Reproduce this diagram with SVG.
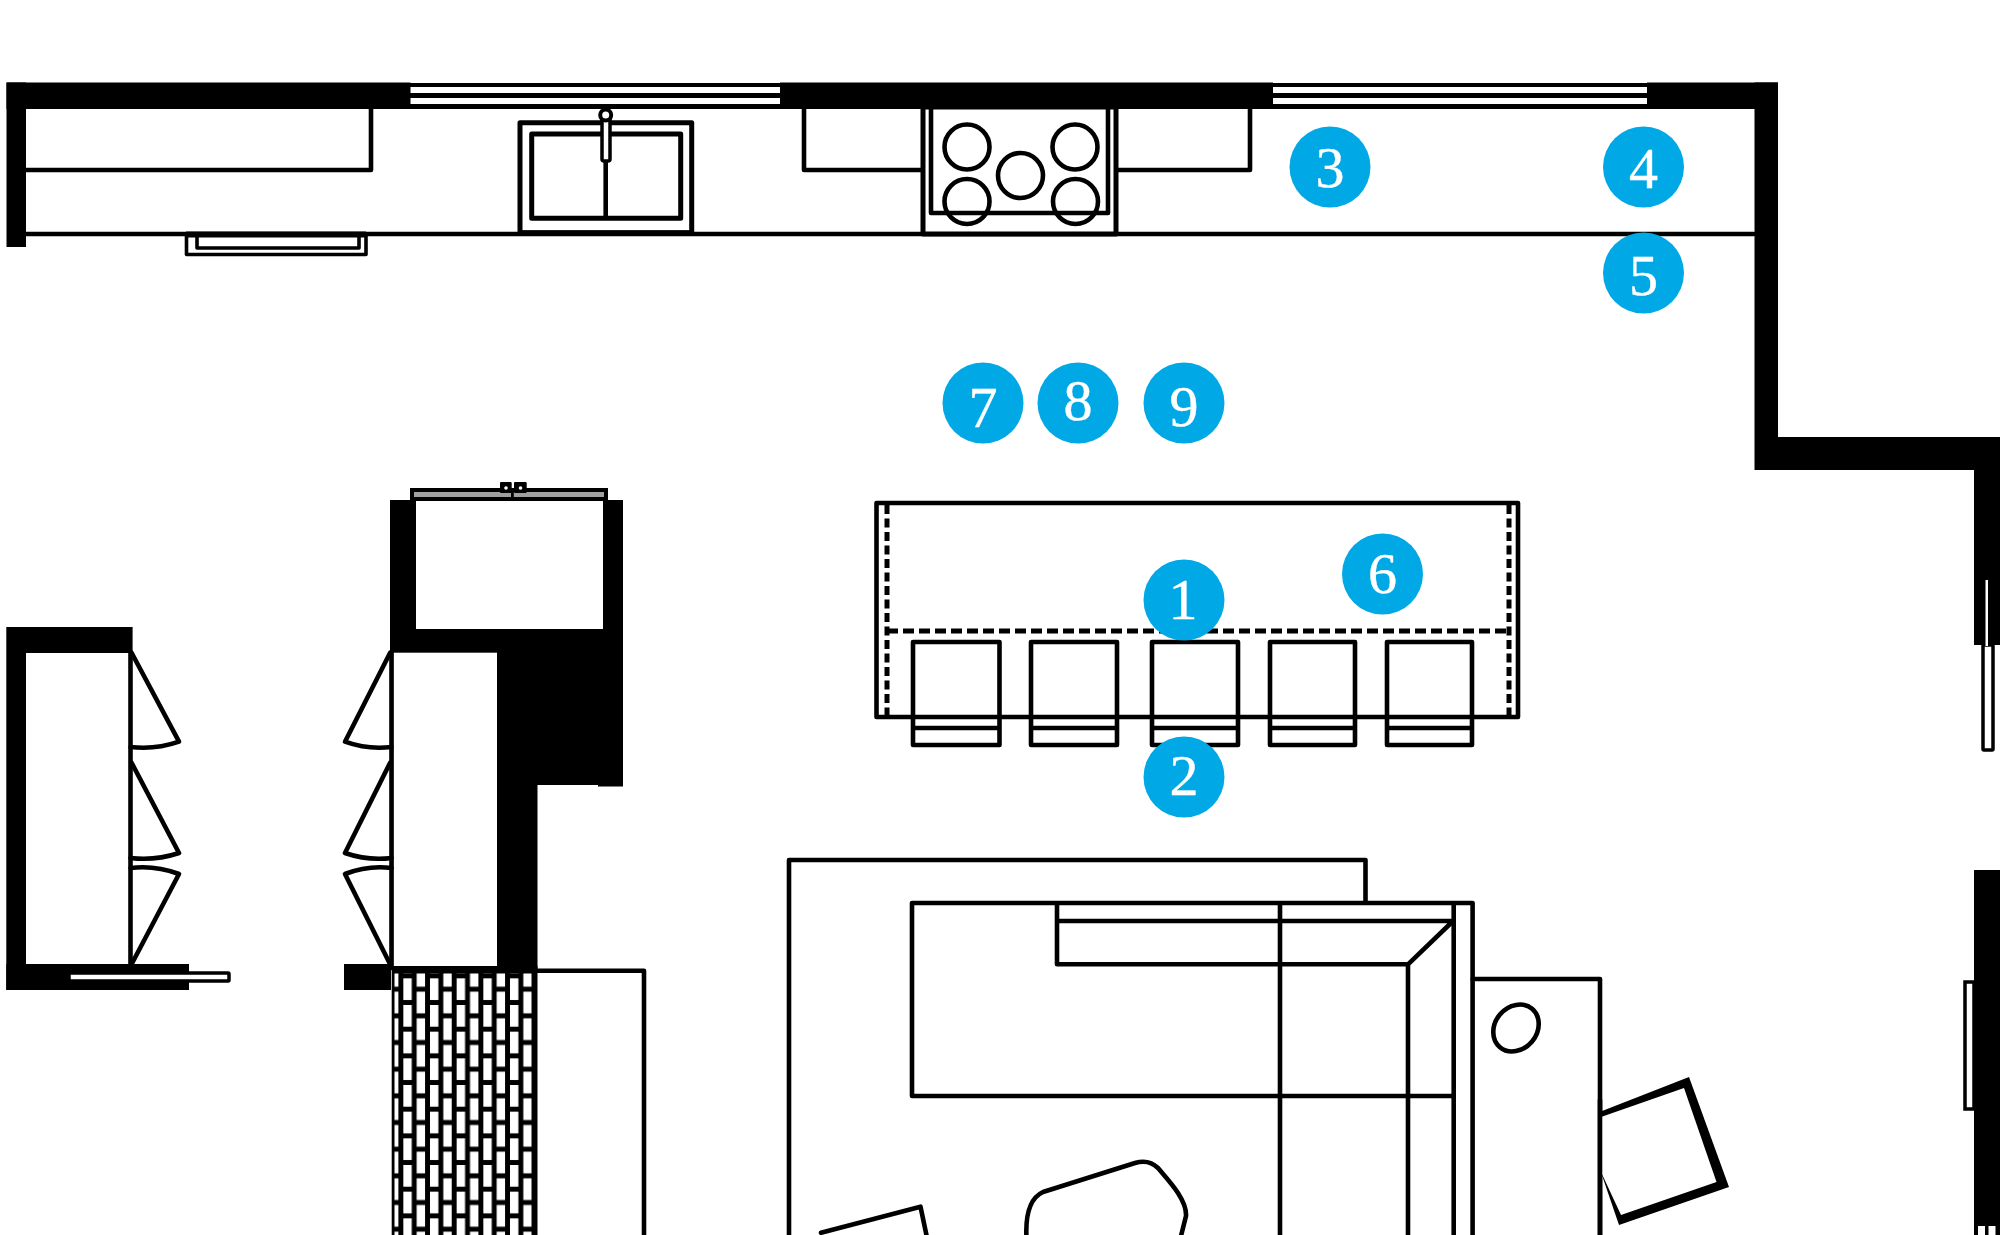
<svg xmlns="http://www.w3.org/2000/svg" width="2000" height="1235" viewBox="0 0 2000 1235">
<style>
.l{fill:none;stroke:#000;stroke-width:4.6;stroke-linejoin:round;stroke-linecap:round}
.t{fill:none;stroke:#000;stroke-width:3.6;stroke-linejoin:round}
.w{fill:#fff;stroke:#000;stroke-width:5;stroke-linejoin:round}
.k{fill:#000}
.dh{fill:none;stroke:#000;stroke-width:5;stroke-dasharray:11 5}
.dv{fill:none;stroke:#000;stroke-width:5;stroke-dasharray:9 4.5}
.b{fill:#00a8e6}
.n{fill:#fff;stroke:#fff;stroke-width:.4;font-family:"Liberation Serif","Noto Serif",serif;font-size:58px;text-anchor:middle}
</style>
<defs>
<pattern id="brick" patternUnits="userSpaceOnUse" x="403.33" y="978.33" width="26.667" height="26.667">
<rect width="26.667" height="26.667" fill="#000"/>
<rect x="0" y="0" width="8.4" height="21.7" fill="#fff"/>
<rect x="13.33" y="13.33" width="8.4" height="13.34" fill="#fff"/>
<rect x="13.33" y="0" width="8.4" height="8.36" fill="#fff"/>
</pattern>
</defs>
<rect width="2000" height="1235" fill="#fff"/>
<g id="walls-top">
<rect class="k" x="6.5" y="82.5" width="404" height="26.5"/>
<rect class="k" x="6.5" y="82.5" width="19.5" height="164.5"/>
<rect class="k" x="780" y="82.5" width="493" height="26.5"/>
<rect class="k" x="1647" y="82.5" width="131" height="26.5"/>
<path class="k" d="M1754.5 82.5H1778V437H2000V645H1974V470H1754.5Z"/>
<path class="k" d="M410 83h370v4h-370zM410 93h370v5h-370zM410 104h370v5h-370zM1273 83h374v4h-374zM1273 93h374v5h-374zM1273 104h374v5h-374z"/>
</g>
<g id="counter">
<path class="l" d="M26 234H1754M26 170H371V107M804 107V170H923M1116 170H1250V107"/>
<path class="t" d="M186.500 236V254.500H366V236M197 236V248H359V236"/>
<rect class="k" x="186" y="231.500" width="180" height="6"/>
</g>
<g id="sink">
<rect class="w" x="520" y="122.700" width="171.700" height="110"/>
<rect class="w" x="531.700" y="134" width="149" height="84.300"/>
<path class="l" d="M605.700 160V218"/>
<rect x="602" y="116" width="8" height="45" rx="2" fill="#fff" stroke="#000" stroke-width="3.500"/>
<circle cx="605.700" cy="115" r="5.500" fill="#fff" stroke="#000" stroke-width="4"/>
<rect class="k" x="518" y="230.500" width="176" height="5"/>
</g>
<g id="stove">
<rect class="w" x="923" y="107" width="193" height="127"/>
<path class="l" d="M931 107V213H1108V107"/>
<circle class="l" cx="967" cy="147" r="22.500"/>
<circle class="l" cx="1075" cy="147" r="22.500"/>
<circle class="l" cx="1020.500" cy="175.500" r="22.500"/>
<circle class="l" cx="967" cy="201.500" r="22.500"/>
<circle class="l" cx="1075.500" cy="201.500" r="22.500"/>
</g>
<g id="island">
<rect class="l" x="876.500" y="503" width="641.500" height="214"/>
<path class="dv" d="M887 505V715M1509 505V715"/>
<path class="dh" d="M887 631H1509"/>
<g id="stools">
<path class="l" d="M913 642H999.500V745H913ZM913 728H999.500"/>
<path class="l" d="M1031 642H1117V745H1031ZM1031 728H1117"/>
<path class="l" d="M1152 642H1238V745H1152ZM1152 728H1238"/>
<path class="l" d="M1270 642H1355V745H1270ZM1270 728H1355"/>
<path class="l" d="M1387 642H1472V745H1387ZM1387 728H1472"/>
</g>
</g>
<g id="pantry-left">
<path class="k" d="M6.300 627H132.600V653H26V964H189V990H6.300Z"/>
<path class="l" d="M130.500 652V965"/>
<path class="l" d="M131.700 653L179 741.700Q155 750 130.500 747"/>
<path class="l" d="M131.700 763L179 853Q155 861 130.500 858"/>
<path class="l" d="M131.700 964L179 874Q155 865 130.500 868"/>
<rect x="69" y="973" width="160" height="8" rx="1" fill="#fff" stroke="#000" stroke-width="3.500"/>
<rect class="k" x="6.300" y="964" width="62.700" height="26"/>
<rect class="k" x="69" y="964" width="120" height="10"/>
<rect class="k" x="69" y="980" width="120" height="10"/>
</g>
<g id="pantry-right">
<path class="k" d="M390 500H623V786.500H598V785H537.500V970H497V967H393.500V653H390Z"/>
<rect x="416" y="501" width="187" height="128" fill="#fff"/>
<rect x="393.500" y="652.700" width="103.500" height="314.300" fill="#fff"/>
<path class="l" d="M391.500 652V968"/>
<path class="l" d="M390 653L345 741.700Q368 750 391.500 747"/>
<path class="l" d="M390 763L345 853Q368 861 391.500 858"/>
<path class="l" d="M390 964L345 874Q368 865 391.500 868"/>
<rect class="k" x="344" y="964" width="47" height="26"/>
<rect x="412" y="490" width="194" height="9" fill="#a0a0a0" stroke="#000" stroke-width="4"/>
<rect class="k" x="500" y="482" width="11.700" height="11" rx="1"/>
<rect class="k" x="514" y="482" width="12.700" height="11" rx="1"/>
<circle cx="506" cy="488" r="1.800" fill="#fff"/>
<circle cx="520.500" cy="488" r="1.800" fill="#fff"/>
<rect class="k" x="511" y="490" width="2.800" height="11"/>
</g>
<g id="tile">
<rect class="k" x="391.700" y="966" width="145.800" height="269"/>
<rect x="394.500" y="973.500" width="137.200" height="261.500" fill="url(#brick)"/>
</g>
<g id="rug">
<path class="l" d="M537 970.700H644V1237"/>
<path class="l" d="M789 1237V860H1365.500V902"/>
</g>
<g id="sofa">
<path class="l" d="M1453.700 1096H912V903H1472.600V1237M1453.700 903V1237M1280 903V1237M1408 1237V964.300H1057V903M1057 921H1453.700M1408 964.300L1451 923"/>
</g>
<g id="side-table">
<path class="l" d="M1472.700 979H1600V1237"/>
<ellipse class="l" cx="1516" cy="1028" rx="25" ry="21" transform="rotate(-50 1516 1028)"/>
</g>
<g id="armchair">
<path class="k" d="M1599.500 1112L1689 1077L1729 1187L1619 1225L1599.500 1168Z"/>
<path d="M1601 1117L1684 1088L1716.500 1182L1621 1215L1601 1172Z" fill="#fff"/>
<path class="l" d="M1600 1100V1237"/>
</g>
<g id="lounge">
<path class="l" d="M821 1232.700L920.500 1206.700L927.500 1240"/>
<path class="l" d="M1026.600 1240C1025 1215 1030 1198 1043 1192L1135 1163C1145 1160 1152 1162 1158 1168C1170 1182 1187 1200 1186 1216L1180 1240"/>
</g>
<g id="wall-right">
<rect class="k" x="1974" y="870" width="26" height="365"/>
<rect x="1965" y="982" width="9" height="127" fill="#fff" stroke="#000" stroke-width="3.500"/>
<rect x="1978" y="1226" width="7" height="9" fill="#fff"/>
<rect x="1988.500" y="1226" width="7" height="9" fill="#fff"/>
<rect x="1983" y="645" width="10" height="105" rx="1" fill="#fff" stroke="#000" stroke-width="3.500"/>
<rect x="1985.500" y="580" width="2.500" height="66" fill="#fff"/>
</g>
<g id="n1"><circle class="b" cx="1184" cy="600" r="40.500"/><text class="n" x="1183" y="619">1</text></g>
<g id="n2"><circle class="b" cx="1184" cy="777" r="40.500"/><text class="n" x="1184" y="795">2</text></g>
<g id="n3"><circle class="b" cx="1330" cy="167" r="40.500"/><text class="n" x="1330" y="187">3</text></g>
<g id="n4"><circle class="b" cx="1643.500" cy="167" r="40.500"/><text class="n" x="1643.500" y="188">4</text></g>
<g id="n5"><circle class="b" cx="1643.500" cy="273" r="40.500"/><text class="n" x="1643.500" y="295">5</text></g>
<g id="n6"><circle class="b" cx="1382.500" cy="574" r="40.500"/><text class="n" x="1382.500" y="593">6</text></g>
<g id="n7"><circle class="b" cx="983" cy="403" r="40.500"/><text class="n" x="983" y="427">7</text></g>
<g id="n8"><circle class="b" cx="1078" cy="403" r="40.500"/><text class="n" x="1078" y="420">8</text></g>
<g id="n9"><circle class="b" cx="1184" cy="403" r="40.500"/><text class="n" x="1184" y="426">9</text></g>
</svg>
